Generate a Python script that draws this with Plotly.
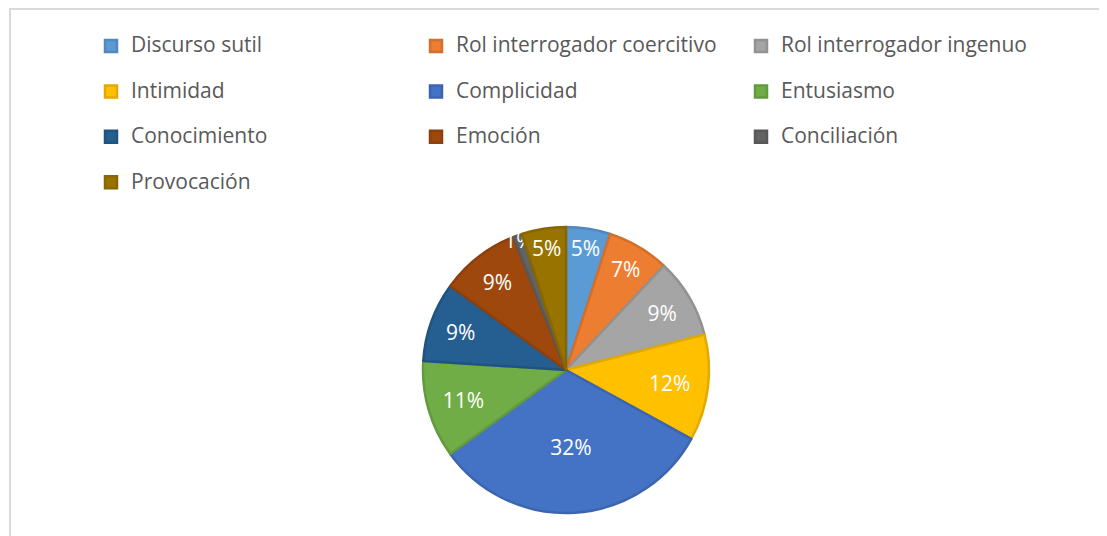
import plotly.graph_objects as go

categories = ["Discurso sutil", "Rol interrogador coercitivo", "Rol interrogador ingenuo",
              "Intimidad", "Complicidad", "Entusiasmo",
              "Conocimiento", "Emoción", "Conciliación", "Provocación"]
values = [5, 7, 9, 12, 32, 11, 9, 9, 1, 5]
colors = ["#5B9BD5", "#ED7D31", "#A5A5A5", "#FFC000", "#4472C4",
          "#70AD47", "#255E91", "#9E480E", "#636363", "#997300"]
edge_colors = ["#5189BD", "#D26F2B", "#929292", "#E2AA00", "#3C65AE",
               "#63993F", "#215381", "#8C400C", "#585858", "#886600"]

legend_labels = ['<span style="font-size:21px">%s</span><br> ' % c for c in categories]

W, H = 1107, 536
# page body adds an 8px offset; positions below are in figure pixels
cx, cy, rad = 558, 362, 143

fig = go.Figure(go.Pie(
    labels=legend_labels,
    values=values,
    sort=False,
    direction="clockwise",
    rotation=0,
    marker=dict(colors=colors, line=dict(width=2.5, color=edge_colors)),
    textinfo="percent",
    texttemplate="%{percent:.0%}",
    textposition="inside",
    insidetextorientation="horizontal",
    textfont=dict(color="white", size=21, family="Open Sans"),
    domain=dict(x=[(cx - rad) / W, (cx + rad) / W],
                y=[1 - (cy + rad) / H, 1 - (cy - rad) / H]),
    hoverinfo="percent",
))

fig.update_layout(
    width=W, height=H,
    margin=dict(l=0, r=0, t=0, b=0, autoexpand=False),
    paper_bgcolor="white",
    font=dict(family="Open Sans", color="#595959"),
    uniformtext=dict(minsize=21, mode="show"),
    legend=dict(
        orientation="h",
        x=83 / W, xanchor="left",
        y=1 - 21 / H, yanchor="top",
        entrywidth=280,
        valign="top",
        font=dict(size=16.3, color="#595959", family="Open Sans"),
        traceorder="normal",
    ),
    shapes=[dict(type="rect", xref="paper", yref="paper",
                 x0=2 / W, x1=1.02, y0=-0.02, y1=1 - 1 / H,
                 line=dict(color="#D9D9D9", width=2), layer="below")],
)

fig.write_html("out.html")
